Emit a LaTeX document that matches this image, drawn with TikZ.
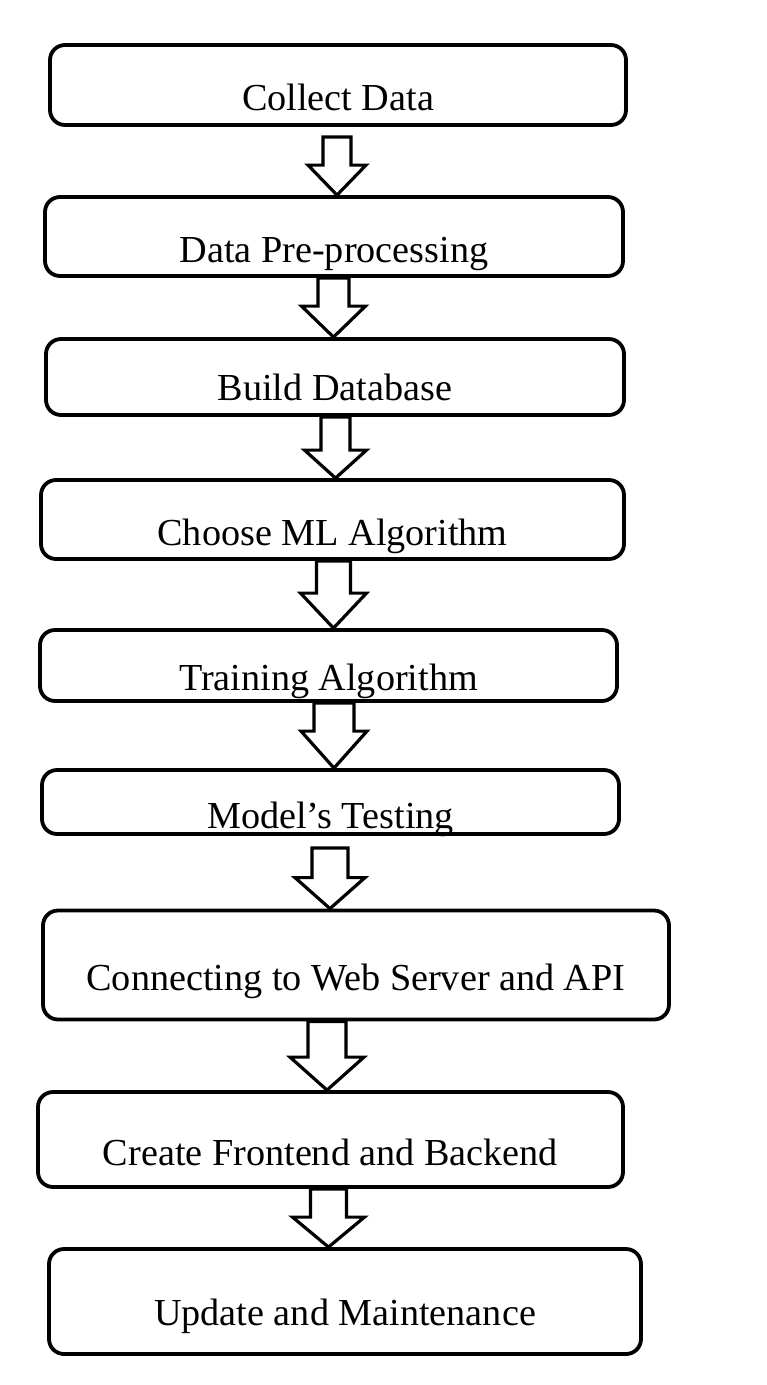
\documentclass[tikz,border=0pt]{standalone}
\usepackage{fontspec}
\setmainfont{Liberation Serif}
\usetikzlibrary{calc}
\tikzset{
  stepbox/.style={draw=black, line width=3.8pt, rounded corners=15pt, inner sep=0pt,
    text depth=0pt, font=\fontsize{38.2}{40}\selectfont, fill=none},
  flowarrow/.style={draw=black, line width=3.2pt, line join=miter, fill=white},
}
% #1 from node, #2 to node, #3 centre x, #4 shaft half width, #5 head half width, #6 head length, #7 gap below source
\newcommand\blockarrow[7]{%
  \draw[flowarrow] let \p1=(#1.south), \p2=(#2.north) in
    ({#3pt-#4pt},{\y1-#7pt}) -- ({#3pt-#4pt},{\y2+#6pt}) -- ({#3pt-#5pt},{\y2+#6pt})
    -- ({#3pt},{\y2}) -- ({#3pt+#5pt},{\y2+#6pt}) -- ({#3pt+#4pt},{\y2+#6pt})
    -- ({#3pt+#4pt},{\y1-#7pt}) -- cycle;}
\begin{document}
\begin{tikzpicture}[x=1pt,y=-1pt]
\useasboundingbox[fill=white] (0,0) rectangle (767,1385);
\node[stepbox, minimum width=576pt, minimum height=80pt, text height=50pt] (s1) at (338,85) {Collect Data};
\node[stepbox, minimum width=578pt, minimum height=79pt, text height=51pt] (s2) at (334,236.5) {Data Pre-processing};
\node[stepbox, minimum width=578pt, minimum height=76pt, text height=46pt] (s3) at (335,377) {Build Database};
\node[stepbox, minimum width=583pt, minimum height=79pt, text height=51pt] (s4) at (332.5,519.5) {Choose ML Algorithm};
\node[stepbox, minimum width=577pt, minimum height=71pt, text height=49pt] (s5) at (328.5,665.5) {Training Algorithm};
\node[stepbox, minimum width=577pt, minimum height=64pt, text height=52pt] (s6) at (330.5,802) {Model’s Testing};
\node[stepbox, minimum width=626pt, minimum height=109pt, text height=50pt] (s7) at (356,965) {Connecting to Web Server and API};
\node[stepbox, minimum width=585pt, minimum height=95pt, text height=51pt] (s8) at (330.5,1139.5) {Create Frontend and Backend};
\node[stepbox, minimum width=592pt, minimum height=105pt, text height=47pt] (s9) at (345,1301.5) {Update and Maintenance};
\blockarrow{s1}{s2}{337}{14}{29}{30}{10}
\blockarrow{s2}{s3}{333.5}{15.5}{32}{31}{0}
\blockarrow{s3}{s4}{335.5}{14.5}{31}{28}{0}
\blockarrow{s4}{s5}{333.5}{17}{33}{35}{0}
\blockarrow{s5}{s6}{334}{20}{33}{37}{0}
\blockarrow{s6}{s7}{330}{18}{35}{31}{12}
\blockarrow{s7}{s8}{327}{19}{37}{33}{0}
\blockarrow{s8}{s9}{328.5}{18}{36}{30}{0}
\end{tikzpicture}
\end{document}
